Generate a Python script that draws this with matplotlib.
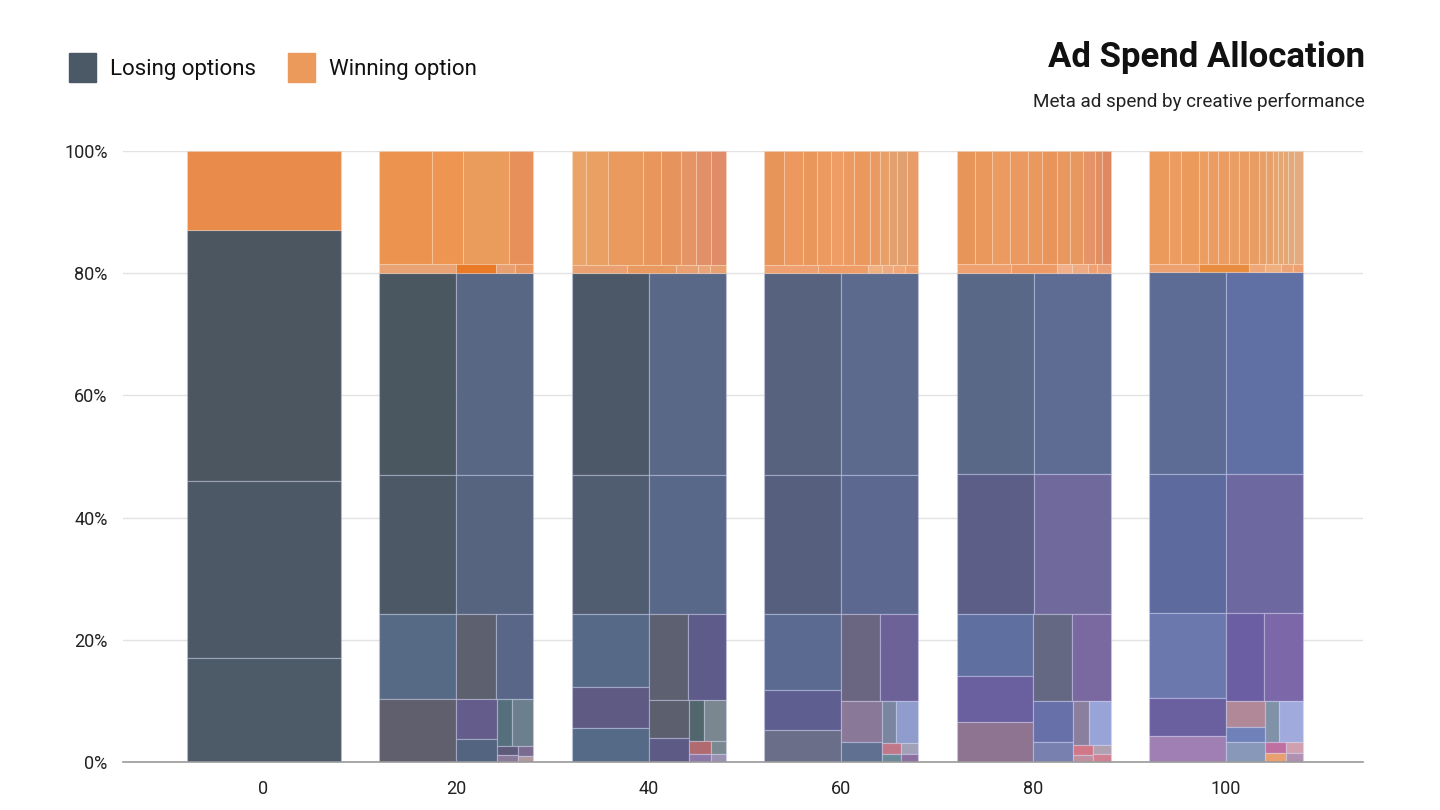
import matplotlib
matplotlib.use("Agg")
import matplotlib.pyplot as plt
from matplotlib.patches import Rectangle

plt.rcParams['font.family'] = ['Roboto', 'DejaVu Sans']

## data: share of spend (%) per creative, nested = treemap groups
periods = [0, 20, 40, 60, 80, 100]

losing_0 = [41, 29, 17]
losing_20 = [[16.5, 16.5], [11.4, 11.4],
             [[6.95, 5.15],
              [[3.6, 3.35], [[1.72, 1.0], [[0.75, 1.04], [[0.2, 0.15], [0.15, 0.1]]]]]]]
losing_40 = [[16.5, 16.5], [11.4, 11.4],
             [[6.0, 3.35, 2.75],
              [[3.57, 3.48], [[1.61, 1.02], [[0.65, 0.96], [[0.3, 0.2], [0.2, 0.12]]]]]]]
losing_60 = [[16.5, 16.5], [11.4, 11.4],
             [[6.2, 3.25, 2.65],
              [[3.6, 3.5], [[1.78, 0.87], [[0.63, 0.99], [[0.22, 0.16], [0.2, 0.15]]]]]]]
losing_80 = [[16.5, 16.5], [11.4, 11.4],
             [[5.1, 3.7, 3.3],
              [[3.62, 3.53], [[1.75, 0.86], [[0.75, 0.99], [[0.2, 0.15], [0.18, 0.15]]]]]]]
losing_100 = [[16.5, 16.5], [11.4, 11.4],
              [[6.9, 3.1, 2.1],
               [[3.6, 3.6], [[1.14, 0.6, 0.86], [[0.61, 1.04], [[0.25, 0.2], [0.2, 0.16]]]]]]]

winning_0 = [13]
winning_20 = [[6.29, 3.8, 5.46, 2.85], [0.8, 0.41, 0.2, 0.19]]
winning_40 = [[1.7, 2.67, 4.25, 2.19, 2.43, 1.82, 1.82, 1.82], [0.47, 0.41, 0.19, 0.10, 0.13]]
winning_60 = [[2.4, 2.28, 1.68, 1.68, 1.44, 1.44, 1.92, 1.2, 1.08, 0.96, 1.2, 1.32],
              [0.49, 0.46, 0.13, 0.1, 0.11, 0.12]]
winning_80 = [[2.28, 2.04, 2.16, 2.16, 1.68, 1.8, 1.56, 1.56, 1.44, 0.84, 1.08],
              [0.49, 0.42, 0.14, 0.14, 0.09, 0.12]]
winning_100 = [[2.42, 1.45, 2.18, 1.09, 1.21, 1.33, 1.21, 1.21, 1.21, 0.85, 0.85, 0.6, 0.6, 0.6, 0.73, 1.09],
               [0.45, 0.45, 0.15, 0.14, 0.11, 0.09]]

losing = [losing_0, losing_20, losing_40, losing_60, losing_80, losing_100]
winning = [winning_0, winning_20, winning_40, winning_60, winning_80, winning_100]

## colours, in leaf order
losing_colors = [
    ['#4b5661', '#4c5866', '#4d5a68'],
    ['#4a5660', '#586784', '#4d5866', '#56647f', '#566a86', '#5f5f6e', '#5c606f', '#5a6688',
     '#645c8a', '#526480', '#55707c', '#6c7f8c', '#5e5a7a', '#8a7a9a', '#7a6c90', '#b09aa0'],
    ['#4c5868', '#5a6888', '#505c70', '#586888', '#566a88', '#5e5a84', '#546a86', '#5c6070',
     '#5e5a8a', '#5c5f6e', '#5e5a86', '#52666e', '#7a8690', '#b06a70', '#8c78a8', '#7a8890', '#9a90b0'],
    ['#56627e', '#5c6a8e', '#56607e', '#5c6890', '#5a6a90', '#5e5e90', '#6a6e88', '#6a6682',
     '#6c6298', '#8a7898', '#607090', '#7a86a0', '#8f9ccc', '#c07888', '#6a8a9a', '#a0a0b8', '#8a70a0'],
    ['#5a6888', '#5e6c94', '#5c5e88', '#706a9c', '#5f70a0', '#6a60a0', '#8e7490', '#646882',
     '#7a68a0', '#6870aa', '#7880b0', '#8a809e', '#98a4d8', '#d07888', '#c090a0', '#b0a0b0', '#d08090'],
    ['#5c6c94', '#6070a4', '#5c6a9e', '#6e68a0', '#6a78ae', '#6a60a0', '#a080b4', '#6c5ea2',
     '#7c68a8', '#b08898', '#7080b8', '#8898b8', '#8092a8', '#a0aadc', '#c070a0', '#e8a070', '#d0a0b0', '#b090b0'],
]
winning_colors = [
    ['#e98b4a'],
    ['#ed9350', '#ee9552', '#e99c5c', '#e8905a', '#e8a274', '#e87a28', '#e8a070', '#e89560'],
    ['#eba468', '#eaa062', '#e99a5c', '#e8965c', '#e6945e', '#e59466', '#e29068', '#e08c68',
     '#eaa070', '#e89a60', '#eaa070', '#eba47a', '#e8a070'],
    ['#e8955a', '#ec985e', '#ea975c', '#ec9a60', '#ee9c64', '#ec9a60', '#eb985c', '#e99a62',
     '#e8a068', '#e2a070', '#e0a070', '#e89c68', '#eea070', '#ee9c68', '#f0b080', '#eeaa80', '#f0a878', '#eea070'],
    ['#e8955a', '#ea985c', '#eb9b60', '#ea9a60', '#e9985e', '#e8955c', '#e8975e', '#e6985f',
     '#e49466', '#e28e62', '#e08860', '#eea070', '#ed9a66', '#f0b08a', '#eeaa80', '#eea070', '#eca078'],
    ['#ec9a5c', '#ec9c60', '#eb9a5c', '#ec9e62', '#ec9c60', '#eb9c62', '#eb9e64', '#ea9c62',
     '#e99c64', '#e8a068', '#e8a06a', '#e6a470', '#e4a672', '#e2a874', '#e2aa7a', '#e4aa80',
     '#eea070', '#e88c40', '#eea878', '#efb080', '#eca478', '#eea070'],
]


def tree_sum(node):
    if isinstance(node, list):
        return sum(tree_sum(c) for c in node)
    return node


def layout(node, x0, x1, y0, y1, stack, out):
    # slice-and-dice: lists alternate between stacking (top->bottom) and side-by-side
    if not isinstance(node, list):
        out.append((x0, x1, y0, y1))
        return
    total = tree_sum(node)
    if stack:
        top = y1
        for child in node:
            h = (y1 - y0) * tree_sum(child) / total
            layout(child, x0, x1, top - h, top, False, out)
            top -= h
    else:
        left = x0
        for child in node:
            w = (x1 - x0) * tree_sum(child) / total
            layout(child, left, left + w, y0, y1, True, out)
            left += w


fig = plt.figure(figsize=(14.4, 8.1), dpi=100)
ax = fig.add_axes([0.0854, 0.0593, 0.861, 0.7543])

bar_w = 0.8
for i, p in enumerate(periods):
    lose_total = tree_sum(losing[i])
    rects = []
    layout(losing[i], i - bar_w / 2, i + bar_w / 2, 0, lose_total, True, rects)
    for (x0, x1, y0, y1), c in zip(rects, losing_colors[i]):
        ax.bar(x0, y1 - y0, width=x1 - x0, bottom=y0, align='edge', color=c,
               edgecolor=(0.85, 0.87, 1.0, 0.3), linewidth=0.9, zorder=3)
    rects = []
    layout(winning[i], i - bar_w / 2, i + bar_w / 2, lose_total, 100, True, rects)
    for (x0, x1, y0, y1), c in zip(rects, winning_colors[i]):
        ax.bar(x0, y1 - y0, width=x1 - x0, bottom=y0, align='edge', color=c,
               edgecolor=(1, 0.9, 0.8, 0.3), linewidth=0.8, zorder=3)

ax.set_xlim(-0.73, 5.71)
ax.set_ylim(0, 100)
ax.set_xticks(range(len(periods)))
ax.set_xticklabels([str(p) for p in periods])
ax.set_yticks([0, 20, 40, 60, 80, 100])
ax.set_yticklabels(['0%', '20%', '40%', '60%', '80%', '100%'])
ax.tick_params(length=0, labelsize=13, labelcolor='#222222')
ax.tick_params(axis='y', pad=11)
ax.tick_params(axis='x', pad=13)
ax.yaxis.grid(True, color='#e2e2e2', linewidth=1, zorder=0)
ax.set_axisbelow(True)
for s in ['top', 'right', 'left']:
    ax.spines[s].set_visible(False)
ax.spines['bottom'].set_color('#9a9a9a')
ax.spines['bottom'].set_linewidth(1.2)
ax.spines['bottom'].set_zorder(4)

# title block
fig.text(0.948, 0.917, 'Ad Spend Allocation', ha='right', va='baseline',
         fontsize=25, fontweight='bold', color='#111111')
fig.text(0.948, 0.868, 'Meta ad spend by creative performance', ha='right', va='baseline',
         fontsize=13.6, color='#222222')

# legend
for x, c, label in [(69, '#4b5866', 'Losing options'), (288, '#ec9a5c', 'Winning option')]:
    fig.patches.append(Rectangle((x / 1440, 1 - 82 / 810), 27 / 1440, 29 / 810,
                                 transform=fig.transFigure, color=c))
    fig.text((x + 41) / 1440, 1 - 70 / 810, label, ha='left', va='center',
             fontsize=16, color='#111111')

fig.savefig('out.png', dpi=100)
